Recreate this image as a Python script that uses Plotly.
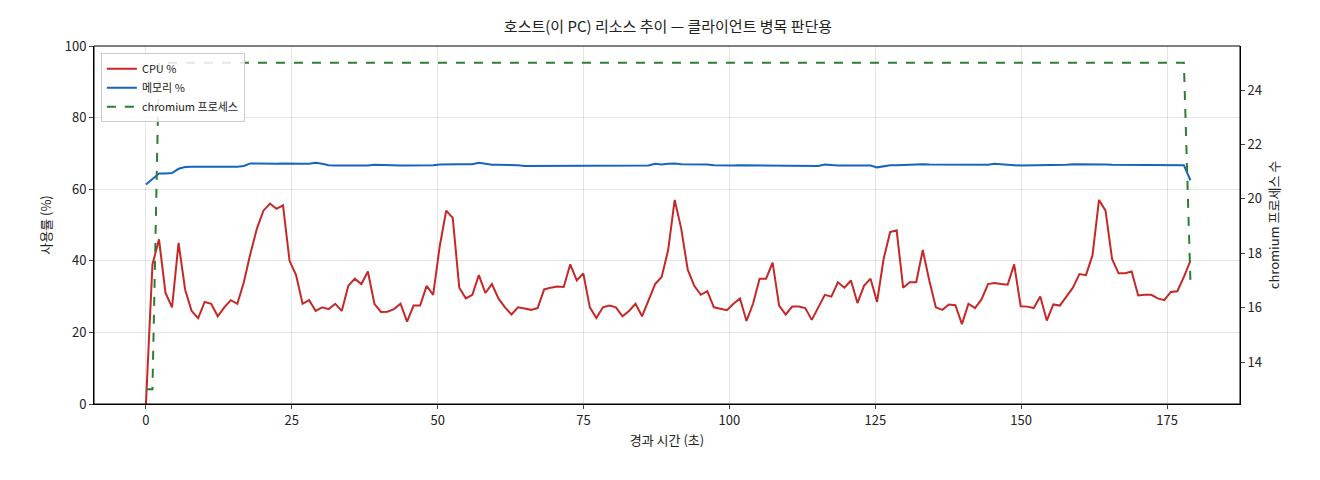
import numpy as np
import plotly.graph_objects as go

cpu = [0,39,46,31,27,45,32,26,24,28.5,28,24.5,27,29,28,34,42,49,54,56,54.5,55.5,40,36,28,29,26,27,26.5,28,26,33,35,33.5,37,28,25.7,25.8,26.5,28,23,27.5,27.5,33,30.5,44,54,52,32.5,29.5,30.5,36,31,33.5,29.5,27,25,27,26.7,26.3,26.8,32,32.5,32.8,32.7,39,34.5,36.5,27,24,27,27.5,27,24.5,26,28,24.5,29,33.5,35.5,43,57,49,37.5,33,30.5,31.5,27,26.7,26.2,28,29.5,23.2,28,35,35,39.5,27.5,25,27.2,27.2,26.8,23.5,27,30.5,30,34,32.5,34.5,28.2,33,35,28.5,40.5,48,48.5,32.5,34,34,43,34.5,27,26.3,27.8,27.6,22.3,28,26.8,29.2,33.5,33.8,33.5,33.3,39,27.3,27.2,26.8,30,23.3,27.8,27.5,30,32.5,36.3,36,41.5,57,54,40.5,36.5,36.5,37,30.3,30.5,30.5,29.5,29,31.3,31.5,35.5,40]
mem = [61.3,62.8,64.4,64.4,64.5,65.7,66.2,66.3,66.3,66.3,66.3,66.2,66.2,66.2,66.3,66.5,67.2,67.2,67.1,67.2,67.1,67.2,67.1,67.1,67.1,67.1,67.4,67.1,66.7,66.6,66.6,66.5,66.6,66.5,66.6,66.8,66.7,66.7,66.7,66.6,66.6,66.6,66.6,66.7,66.7,66.9,67.0,67.0,67.0,67.0,67.0,67.4,67.0,66.8,66.8,66.8,66.7,66.7,66.5,66.5,66.5,66.5,66.5,66.6,66.6,66.6,66.6,66.6,66.6,66.6,66.6,66.6,66.5,66.5,66.5,66.5,66.5,66.6,67.1,66.9,67.1,67.2,67.0,67.0,67.0,66.9,66.9,66.7,66.6,66.6,66.6,66.7,66.7,66.6,66.6,66.6,66.6,66.6,66.6,66.6,66.6,66.6,66.5,66.5,66.9,66.7,66.6,66.6,66.6,66.6,66.6,66.6,66.1,66.4,66.7,66.7,66.8,67.0,67.0,67.0,66.9,66.9,66.8,66.8,66.8,66.8,66.8,66.8,66.9,66.8,67.1,66.9,66.8,66.7,66.6,66.6,66.6,66.6,66.7,66.6,66.8,66.8,67.0,67.0,67.1,66.9,66.9,66.9,66.8,66.8,66.8,66.8,66.7,66.7,66.7,66.7,66.7,66.6,66.7,66.7,62.5]
chromium = [13, 13] + [25] * 157 + [25, 17]
t_end = 179

t_cpu = np.linspace(0, t_end, len(cpu))
t_mem = np.linspace(0, t_end, len(mem))
t_chr = np.linspace(0, t_end, len(chromium))

F = "Noto Sans CJK KR"
fig = go.Figure()
fig.add_trace(go.Scatter(x=t_cpu, y=cpu, name="CPU %", mode="lines", line=dict(color="#c62828", width=2)))
fig.add_trace(go.Scatter(x=t_mem, y=mem, name="메모리 %", mode="lines", line=dict(color="#1565c0", width=2)))
fig.add_trace(go.Scatter(x=t_chr, y=chromium, name="chromium 프로세스", mode="lines", yaxis="y2",
                         line=dict(color="#2e7d32", width=2, dash="dash")))

ax = dict(showline=True, linecolor="black", linewidth=1, mirror=False, ticks="outside", ticklen=4,
          gridcolor="rgba(0,0,0,0.1)", zeroline=False, tickfont=dict(size=13, color="#222"))
fig.update_layout(
    width=1320, height=480, plot_bgcolor="white", paper_bgcolor="white",
    font=dict(family=F, color="#222"),
    margin=dict(l=86, r=88, t=38, b=84),
    title=dict(text="호스트(이 PC) 리소스 추이 — 클라이언트 병목 판단용", x=0.5, xanchor="center", y=0.96, yanchor="middle", font=dict(size=15)),
    xaxis=dict(**ax, range=[-8.9, 187.5], tickvals=[0,25,50,75,100,125,150,175],
               title=dict(text="경과 시간 (초)", font=dict(size=13), standoff=8)),
    yaxis=dict(**ax, range=[0, 100], tickvals=[0,20,40,60,80,100],
               title=dict(text="사용률 (%)", font=dict(size=13), standoff=10)),
    yaxis2=dict(**{k: v for k, v in ax.items() if k != "gridcolor"}, showgrid=False, overlaying="y", side="right",
                range=[12.46, 25.62], tickvals=[14,16,18,20,22,24],
                title=dict(text="chromium 프로세스 수", font=dict(size=13), standoff=8)),
    legend=dict(x=0.006, y=0.98, xanchor="left", yanchor="top", bgcolor="rgba(255,255,255,0.85)",
                bordercolor="#ccc", borderwidth=1, font=dict(size=11)),
    shapes=[dict(type="rect", xref="paper", yref="paper", x0=0, y0=0, x1=1, y1=1, line=dict(color="black", width=1))],
)
fig.write_html("out.html")
